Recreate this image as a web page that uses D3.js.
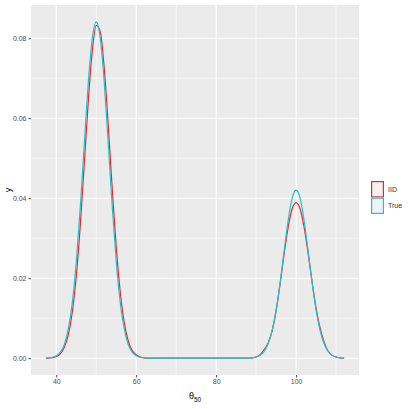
<!DOCTYPE html>
<html>
<head>
<meta charset="utf-8">
<script src="https://cdn.jsdelivr.net/npm/d3@7"></script>
<style>
  body { margin: 0; background: #fff; }
  text { font-family: "Liberation Sans", Arial, sans-serif; }
</style>
</head>
<body>
<svg id="chart" width="409" height="409"></svg>
<script>
// x grid for the two density curves
const xs = [37.4, 38, 39, 40, 41, 42, 43, 44, 45, 46, 47, 48, 49, 50, 51, 52, 53, 54, 55, 56, 57, 58, 59, 60, 61, 62, 63, 64, 70, 80, 86, 87, 88, 89, 90, 91, 92, 93, 94, 95, 96, 97, 98, 99, 100, 101, 102, 103, 104, 105, 106, 107, 108, 109, 110, 111, 112];

const trueY = [0.0000, 0.0001, 0.0002, 0.0006, 0.0015, 0.0034, 0.0073, 0.0139, 0.0241, 0.0378, 0.0536, 0.0689, 0.0800, 0.0841, 0.0800, 0.0689, 0.0536, 0.0378, 0.0241, 0.0139, 0.0073, 0.0034, 0.0015, 0.0006, 0.0002, 0.0001, 0.0000, 0.0000, 0.0000, 0.0000, 0.0000, 0.0000, 0.0000, 0.0001, 0.0003, 0.0007, 0.0017, 0.0036, 0.0069, 0.0120, 0.0189, 0.0268, 0.0344, 0.0400, 0.0420, 0.0400, 0.0344, 0.0268, 0.0189, 0.0120, 0.0069, 0.0036, 0.0017, 0.0007, 0.0003, 0.0001, 0.0000];

const iidY = [0.0000, 0.0000, 0.0001, 0.0004, 0.0011, 0.0027, 0.0058, 0.0115, 0.0205, 0.0332, 0.0485, 0.0642, 0.0768, 0.0832, 0.0816, 0.0724, 0.0581, 0.0422, 0.0277, 0.0165, 0.0089, 0.0043, 0.0019, 0.0008, 0.0003, 0.0001, 0.0000, 0.0000, 0.0000, 0.0000, 0.0000, 0.0000, 0.0000, 0.0001, 0.0003, 0.0009, 0.0021, 0.0038, 0.0069, 0.0119, 0.0186, 0.0260, 0.0327, 0.0373, 0.0389, 0.0373, 0.0327, 0.0262, 0.0190, 0.0125, 0.0075, 0.0040, 0.0018, 0.0007, 0.0003, 0.0001, 0.0000];

const seriesNames = ["IID", "True"];
const seriesColors = ["#F2262A", "#1CC5CE"];
const xTicks = [40, 60, 80, 100];
const xMinor = [50, 70, 90, 110];
const yTicks = [0, 0.02, 0.04, 0.06, 0.08];
const yMinor = [0.01, 0.03, 0.05, 0.07];

const svg = d3.select("#chart");
const panel = { left: 31, right: 359, top: 5, bottom: 375 };

const xExt = d3.extent(xs);
const xPad = (xExt[1] - xExt[0]) * 0.05;
const yMax = d3.max(trueY.concat(iidY));
const yPad = yMax * 0.05;

const x = d3.scaleLinear().domain([xExt[0] - xPad, xExt[1] + xPad]).range([panel.left, panel.right]);
const y = d3.scaleLinear().domain([-yPad, yMax + yPad]).range([panel.bottom, panel.top]);

// Panel background
svg.append("rect")
    .attr("x", panel.left).attr("y", panel.top)
    .attr("width", panel.right - panel.left)
    .attr("height", panel.bottom - panel.top)
    .attr("fill", "#EBEBEB");

// Grid
const grid = svg.append("g");
grid.selectAll(".vmin").data(xMinor).enter().append("line")
    .attr("x1", d => x(d)).attr("x2", d => x(d))
    .attr("y1", panel.top).attr("y2", panel.bottom)
    .attr("stroke", "#fff").attr("stroke-width", 0.55);
grid.selectAll(".hmin").data(yMinor).enter().append("line")
    .attr("x1", panel.left).attr("x2", panel.right)
    .attr("y1", d => y(d)).attr("y2", d => y(d))
    .attr("stroke", "#fff").attr("stroke-width", 0.55);
grid.selectAll(".vmaj").data(xTicks).enter().append("line")
    .attr("x1", d => x(d)).attr("x2", d => x(d))
    .attr("y1", panel.top).attr("y2", panel.bottom)
    .attr("stroke", "#fff").attr("stroke-width", 1.1);
grid.selectAll(".hmaj").data(yTicks).enter().append("line")
    .attr("x1", panel.left).attr("x2", panel.right)
    .attr("y1", d => y(d)).attr("y2", d => y(d))
    .attr("stroke", "#fff").attr("stroke-width", 1.1);

// Lines
const series = [iidY, trueY];
const line = d3.line()
    .x((d, i) => x(xs[i]))
    .y(d => y(d))
    .curve(d3.curveMonotoneX);

svg.append("g").selectAll("path")
    .data(series)
    .enter().append("path")
    .attr("d", d => line(d))
    .attr("fill", "none")
    .attr("stroke", (d, i) => seriesColors[i])
    .attr("stroke-width", 1.2);

// Axes
const xAxis = svg.append("g")
    .attr("transform", `translate(0,${panel.bottom})`)
    .call(d3.axisBottom(x).tickValues(xTicks).tickSize(2.5).tickPadding(2).tickFormat(d3.format("d")));
const yAxis = svg.append("g")
    .attr("transform", `translate(${panel.left},0)`)
    .call(d3.axisLeft(y).tickValues(yTicks).tickSize(2.5).tickPadding(2).tickFormat(d3.format(".2f")));

[xAxis, yAxis].forEach(a => {
  a.select(".domain").remove();
  a.selectAll(".tick line").attr("stroke", "#333333").attr("stroke-width", 0.9);
  a.selectAll(".tick text").attr("fill", "#4D4D4D").attr("font-size", 7)
    .attr("font-family", "Liberation Sans, Arial, sans-serif");
});

// Axis titles
const xt = svg.append("text")
    .attr("x", (panel.left + panel.right) / 2)
    .attr("y", 399)
    .attr("text-anchor", "middle")
    .attr("font-size", 9)
    .attr("fill", "#000");
xt.append("tspan").text("θ");
xt.append("tspan").attr("font-size", 6.5).attr("dy", 2.5).text("50");

svg.append("text")
    .attr("transform", `translate(11,${(panel.top + panel.bottom) / 2}) rotate(-90)`)
    .attr("text-anchor", "middle")
    .attr("font-size", 9)
    .attr("fill", "#000")
    .text("y");

// Legend
const legend = svg.append("g").attr("transform", "translate(371,181)");
const key = legend.selectAll("g")
    .data(seriesNames)
    .enter().append("g")
    .attr("transform", (d, i) => `translate(0,${i * 16.5})`);

key.append("rect")
    .attr("width", 13).attr("height", 16.5)
    .attr("fill", "#F2F2F2");
key.append("rect")
    .attr("x", 0.6).attr("y", 0.6)
    .attr("width", 11.8).attr("height", 15.3)
    .attr("fill", "none")
    .attr("stroke", (d, i) => seriesColors[i])
    .attr("stroke-width", 1.2);
key.append("text")
    .attr("x", 17).attr("y", 8.25)
    .attr("dy", "0.35em")
    .attr("font-size", 7)
    .attr("fill", "#333")
    .text(d => d);
</script>
</body>
</html>
